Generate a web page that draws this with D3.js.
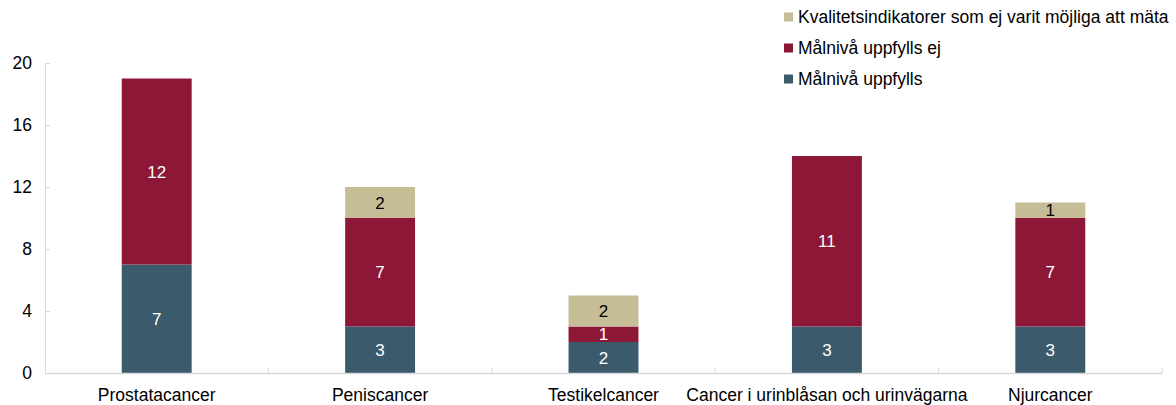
<!DOCTYPE html>
<html>
<head>
<meta charset="utf-8">
<script src="https://cdn.jsdelivr.net/npm/d3@7"></script>
<style>
  body { margin: 0; background: #fff; }
  svg { display: block; font-family: "Liberation Sans", Arial, sans-serif; }
</style>
</head>
<body>
<svg id="chart" width="1176" height="405"></svg>
<script>
const categories = ["Prostatacancer", "Peniscancer", "Testikelcancer", "Cancer i urinblåsan och urinvägarna", "Njurcancer"];
const seriesNames = ["Målnivå uppfylls", "Målnivå uppfylls ej", "Kvalitetsindikatorer som ej varit möjliga att mäta"];
const uppfylls = [7, 3, 2, 3, 3];
const uppfyllsEj = [12, 7, 1, 11, 7];
const ejMatbara = [0, 2, 2, 0, 1];
const yTicks = [0, 4, 8, 12, 16, 20];
const colors = ["#3b5a6c", "#8c1737", "#c6bd97"];
const labelColors = ["#ffffff", "#ffffff", "#000000"];

const svg = d3.select("#chart");
const margin = { left: 45, right: 14, top: 63, bottom: 32 };
const W = 1176, H = 405;

const x = d3.scaleBand().domain(categories).range([margin.left, W - margin.right]).paddingInner(0).paddingOuter(0);
const y = d3.scaleLinear().domain([0, 20]).range([H - margin.bottom, margin.top]);

const rows = categories.map((c, i) => ({ cat: c, s0: uppfylls[i], s1: uppfyllsEj[i], s2: ejMatbara[i] }));
const stacked = d3.stack().keys(["s0", "s1", "s2"])(rows);

const barW = x.bandwidth() * 0.313;

// y axis (inward ticks, no grid)
const yAxis = d3.axisLeft(y).tickValues(yTicks).tickSizeInner(-5).tickSizeOuter(0).tickPadding(13);
const gy = svg.append("g").attr("transform", `translate(${margin.left},0)`).call(yAxis);
gy.select(".domain").attr("stroke", "#d9d9d9");
gy.selectAll(".tick line").attr("stroke", "#d9d9d9");
gy.selectAll(".tick text").attr("font-size", 17.5).attr("fill", "#000").attr("font-family", "Liberation Sans, Arial, sans-serif");

// stacked bars with value labels
stacked.forEach((layer, si) => {
  const g = svg.append("g");
  layer.forEach((d, i) => {
    const v = d[1] - d[0];
    if (v <= 0) return;
    const cx = x(categories[i]) + x.bandwidth() / 2;
    g.append("rect")
      .attr("x", cx - barW / 2)
      .attr("width", barW)
      .attr("y", y(d[1]))
      .attr("height", y(d[0]) - y(d[1]))
      .attr("fill", colors[si]);
    g.append("text")
      .attr("x", cx)
      .attr("y", (y(d[0]) + y(d[1])) / 2)
      .attr("dy", "0.36em")
      .attr("text-anchor", "middle")
      .attr("font-size", 17)
      .attr("fill", labelColors[si])
      .text(v);
  });
});

// x axis
const xAxis = d3.axisBottom(x).tickSize(0).tickPadding(16);
const gx = svg.append("g").attr("transform", `translate(0,${y(0)})`).call(xAxis);
gx.select(".domain").attr("stroke", "#d9d9d9").attr("stroke-width", 1.5);
gx.selectAll(".tick text").attr("font-size", 17.5).attr("fill", "#000").attr("font-family", "Liberation Sans, Arial, sans-serif");
// category boundary ticks
const bounds = d3.range(1, categories.length + 1).map(i => margin.left + i * x.bandwidth());
svg.append("g").selectAll("line").data(bounds).join("line")
  .attr("x1", d => d).attr("x2", d => d)
  .attr("y1", y(0)).attr("y2", y(0) - 5)
  .attr("stroke", "#d9d9d9");

// legend
const legendOrder = [2, 1, 0];
const lg = svg.append("g");
legendOrder.forEach((si, k) => {
  const ly = 17 + k * 31;
  lg.append("rect").attr("x", 784).attr("y", ly - 4.5).attr("width", 9).attr("height", 9).attr("fill", colors[si]);
  lg.append("text").attr("x", 798).attr("y", ly).attr("dy", "0.36em")
    .attr("font-size", 17.5).attr("fill", "#000").text(seriesNames[si]);
});
</script>
</body>
</html>
